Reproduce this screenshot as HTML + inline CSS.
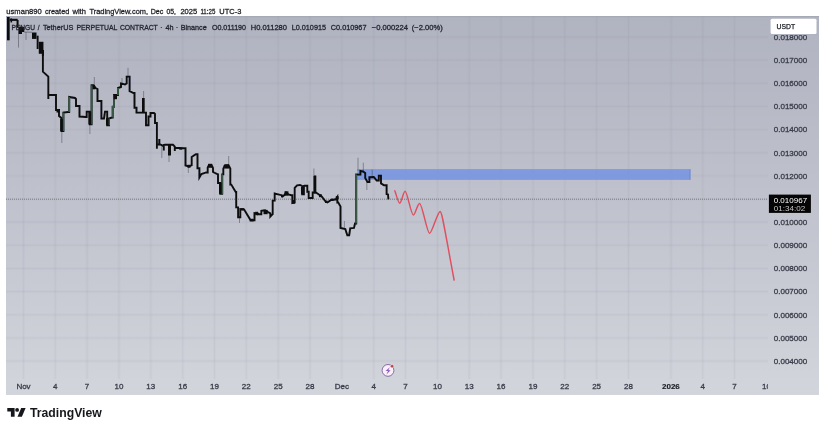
<!DOCTYPE html>
<html><head><meta charset="utf-8"><title>PENGU chart</title>
<style>
html,body{margin:0;padding:0;background:#fff;}
body{width:825px;height:431px;overflow:hidden;font-family:"Liberation Sans",sans-serif;}
svg{display:block;will-change:transform;}
text{font-family:"Liberation Sans",sans-serif;}
.b text{stroke:#3a3d49;stroke-width:0.3;}
.h text{stroke:#23262f;stroke-width:0.3;}
.b text.k{stroke:#1b1d24;stroke-width:0.15;}
</style></head><body>
<svg width="825" height="431" viewBox="0 0 825 431">
<defs>
<linearGradient id="bg" x1="0" y1="0" x2="0" y2="1">
<stop offset="0" stop-color="#b0b3c0"/>
<stop offset="0.5" stop-color="#c0c3cd"/>
<stop offset="1" stop-color="#d3d5dc"/>
</linearGradient>
<filter id="soft" x="-2%" y="-2%" width="104%" height="104%"><feGaussianBlur stdDeviation="0.35"/></filter>
<clipPath id="plot"><rect x="6" y="16" width="762" height="379"/></clipPath>
<clipPath id="chart"><rect x="6" y="16" width="813" height="379"/></clipPath>
</defs>
<rect x="0" y="0" width="825" height="431" fill="#ffffff"/>
<rect x="6" y="16" width="813" height="379" fill="url(#bg)"/>
<g stroke="#7f8392" stroke-opacity="0.03" stroke-width="3" clip-path="url(#chart)"><line x1="23.5" y1="16" x2="23.5" y2="379"/><line x1="55.3" y1="16" x2="55.3" y2="379"/><line x1="87.1" y1="16" x2="87.1" y2="379"/><line x1="119.0" y1="16" x2="119.0" y2="379"/><line x1="150.8" y1="16" x2="150.8" y2="379"/><line x1="182.7" y1="16" x2="182.7" y2="379"/><line x1="214.5" y1="16" x2="214.5" y2="379"/><line x1="246.3" y1="16" x2="246.3" y2="379"/><line x1="278.2" y1="16" x2="278.2" y2="379"/><line x1="310.0" y1="16" x2="310.0" y2="379"/><line x1="341.8" y1="16" x2="341.8" y2="379"/><line x1="373.7" y1="16" x2="373.7" y2="379"/><line x1="405.5" y1="16" x2="405.5" y2="379"/><line x1="437.4" y1="16" x2="437.4" y2="379"/><line x1="469.2" y1="16" x2="469.2" y2="379"/><line x1="501.0" y1="16" x2="501.0" y2="379"/><line x1="532.9" y1="16" x2="532.9" y2="379"/><line x1="564.7" y1="16" x2="564.7" y2="379"/><line x1="596.6" y1="16" x2="596.6" y2="379"/><line x1="628.4" y1="16" x2="628.4" y2="379"/><line x1="670.9" y1="16" x2="670.9" y2="379"/><line x1="702.7" y1="16" x2="702.7" y2="379"/><line x1="734.5" y1="16" x2="734.5" y2="379"/><line x1="6" y1="36.9" x2="768" y2="36.9"/><line x1="6" y1="60.1" x2="768" y2="60.1"/><line x1="6" y1="83.2" x2="768" y2="83.2"/><line x1="6" y1="106.4" x2="768" y2="106.4"/><line x1="6" y1="129.5" x2="768" y2="129.5"/><line x1="6" y1="152.7" x2="768" y2="152.7"/><line x1="6" y1="175.8" x2="768" y2="175.8"/><line x1="6" y1="199.0" x2="768" y2="199.0"/><line x1="6" y1="222.1" x2="768" y2="222.1"/><line x1="6" y1="245.3" x2="768" y2="245.3"/><line x1="6" y1="268.4" x2="768" y2="268.4"/><line x1="6" y1="291.6" x2="768" y2="291.6"/><line x1="6" y1="314.8" x2="768" y2="314.8"/><line x1="6" y1="337.9" x2="768" y2="337.9"/><line x1="6" y1="361.0" x2="768" y2="361.0"/></g>
<g stroke="#8c90a0" stroke-opacity="0.07" stroke-width="1" clip-path="url(#chart)"><line x1="23.5" y1="16" x2="23.5" y2="379"/><line x1="55.3" y1="16" x2="55.3" y2="379"/><line x1="87.1" y1="16" x2="87.1" y2="379"/><line x1="119.0" y1="16" x2="119.0" y2="379"/><line x1="150.8" y1="16" x2="150.8" y2="379"/><line x1="182.7" y1="16" x2="182.7" y2="379"/><line x1="214.5" y1="16" x2="214.5" y2="379"/><line x1="246.3" y1="16" x2="246.3" y2="379"/><line x1="278.2" y1="16" x2="278.2" y2="379"/><line x1="310.0" y1="16" x2="310.0" y2="379"/><line x1="341.8" y1="16" x2="341.8" y2="379"/><line x1="373.7" y1="16" x2="373.7" y2="379"/><line x1="405.5" y1="16" x2="405.5" y2="379"/><line x1="437.4" y1="16" x2="437.4" y2="379"/><line x1="469.2" y1="16" x2="469.2" y2="379"/><line x1="501.0" y1="16" x2="501.0" y2="379"/><line x1="532.9" y1="16" x2="532.9" y2="379"/><line x1="564.7" y1="16" x2="564.7" y2="379"/><line x1="596.6" y1="16" x2="596.6" y2="379"/><line x1="628.4" y1="16" x2="628.4" y2="379"/><line x1="670.9" y1="16" x2="670.9" y2="379"/><line x1="702.7" y1="16" x2="702.7" y2="379"/><line x1="734.5" y1="16" x2="734.5" y2="379"/><line x1="6" y1="36.9" x2="768" y2="36.9"/><line x1="6" y1="60.1" x2="768" y2="60.1"/><line x1="6" y1="83.2" x2="768" y2="83.2"/><line x1="6" y1="106.4" x2="768" y2="106.4"/><line x1="6" y1="129.5" x2="768" y2="129.5"/><line x1="6" y1="152.7" x2="768" y2="152.7"/><line x1="6" y1="175.8" x2="768" y2="175.8"/><line x1="6" y1="199.0" x2="768" y2="199.0"/><line x1="6" y1="222.1" x2="768" y2="222.1"/><line x1="6" y1="245.3" x2="768" y2="245.3"/><line x1="6" y1="268.4" x2="768" y2="268.4"/><line x1="6" y1="291.6" x2="768" y2="291.6"/><line x1="6" y1="314.8" x2="768" y2="314.8"/><line x1="6" y1="337.9" x2="768" y2="337.9"/><line x1="6" y1="361.0" x2="768" y2="361.0"/></g>
<rect x="6" y="16" width="813" height="1.2" fill="#9fa2ad" fill-opacity="0.55"/>
<rect x="357.2" y="169.1" width="333.2" height="10.8" fill="#7b97df" fill-opacity="0.94"/><rect x="689.6" y="169.1" width="0.9" height="10.8" fill="#5f78c4" fill-opacity="0.6"/>
<line x1="6" y1="199.2" x2="768" y2="199.2" stroke="#2b2e38" stroke-width="0.8" stroke-dasharray="1.0 1.0" stroke-opacity="0.6"/>
<g clip-path="url(#plot)"><g filter="url(#soft)"><g stroke="#3a3d48" stroke-width="0.85" stroke-opacity="0.55"><line x1="18.5" y1="27" x2="18.5" y2="47.6"/><line x1="26" y1="32" x2="26" y2="40"/><line x1="61.8" y1="131" x2="61.8" y2="143"/><line x1="89.9" y1="124" x2="89.9" y2="134"/><line x1="94.3" y1="77" x2="94.3" y2="86"/><line x1="122" y1="78" x2="122" y2="84"/><line x1="128" y1="67.8" x2="128" y2="76.6"/><line x1="143.6" y1="91" x2="143.6" y2="98"/><line x1="161.8" y1="146.5" x2="161.8" y2="158"/><line x1="169" y1="155" x2="169" y2="162"/><line x1="188.3" y1="166" x2="188.3" y2="173"/><line x1="228.7" y1="156" x2="228.7" y2="165"/><line x1="239.5" y1="217" x2="239.5" y2="223"/><line x1="313.9" y1="168.5" x2="313.9" y2="175"/><line x1="344.4" y1="221" x2="344.4" y2="229"/><line x1="358" y1="157.8" x2="358" y2="171"/><line x1="363.3" y1="162.7" x2="363.3" y2="171"/><line x1="366.8" y1="182" x2="366.8" y2="190"/><line x1="372.2" y1="169.5" x2="372.2" y2="177"/><line x1="24" y1="32" x2="32" y2="32.3" stroke-width="1.1"/></g><polyline fill="none" stroke="#0b0c0f" stroke-width="1.9" stroke-linejoin="miter" points="42.9,50 42.9,71.7 48.3,76.6 48.3,99 48.3,95 56,95 56,110 59,110 59,116 61.4,118 61.4,131 63.4,131 63.4,112.6 68,112 69.2,112 69.2,97 75,98 76,99 76,106 79.5,106 79.5,116.5 86,117 86.7,117 86.7,111.6 89.7,111.6 89.7,124.3 91.6,124.3 91.6,85.3 93.5,85.3 95.5,88 97.5,89 97.5,101 101.4,101 101.4,118.5 104,118.5 105,111.6 107.2,111.6 107.2,125.3 109,125.3 109,118.5 112,117.5 112.7,117.5 112.7,106.8 114,106.8 114,95 118,95 118,88 121,87 121,83.4 125,84.5 126.7,83.4 126.7,76.6 129.6,76.6 129.6,91.2 133.5,93 134.5,93 134.5,107.8 136.5,107.8 136.5,112.6 143.3,112.6 143.3,98 143.3,112.6 146,112.6 146,125.3 148.5,125.3 148.5,116.5 150.5,116.5 150.5,113 154,113 155,114 155,123 156.9,123 156.9,148.7 156.9,144.5 160.2,144.5 162.7,145.7 163.8,145.7 163.8,150.4 163.8,145 165,144.8 173,144.8 174.8,146.7 174.8,151 174.8,147.7 184,148.2 185.5,148.2 185.5,165.5 189,166.5 191.7,165.2 191.7,157 195.8,154.3 197.5,154.3 197.5,168.2 199.4,168.2 199.4,177.5 201.4,174 206.3,172.4 207.7,172.5 207.7,167.5 209,165 211.5,165 213,168 213,172 217.7,174.4 218,174.4 218,183 220.3,183 220.3,193.9 222.2,193.9 222.2,174.4 223.3,174.4 223.3,169 224.5,166 228.7,165.5 230.3,168.5 230.3,184.6 231.3,184.6 235.7,192 236.2,192 236.2,207.4 238.1,207.4 238.1,217.2 240.3,217.2 240.3,209 244,209.3 249.9,219.1 251,220.2 254.5,220.2 254.5,213 258,213.5 258,214.2 261.3,214.2 261.3,210.8 265,210.3 268,212 270.3,213.3 270.3,216.7 272.7,214.2 272.7,200.6 274.7,200.6 274.7,193.5 278.1,194.3 281.5,195.2 282.3,196.5 284.5,195 286,192.5 288.4,194.3 291.3,195.2 292.3,195.2 292.3,203 294.7,202.5 294.7,187.9 297.1,185.3 300,185 302.2,186 302.2,194.3 303.9,194.3 303.9,186 304.6,185.7 307.3,185.7 307.3,191.8 308.7,191.8 308.7,198 312.7,198 312.7,192.5 314.9,192.5 314.9,175.8 314.9,192.8 316.3,192.8 319.2,194.7 321.7,196.5 325.6,201.5 327.5,202.5 331,200 333.4,199.8 335.8,199.3 337.3,197 337.3,202.5 338.2,202.5 340.5,206.4 340.5,228 345.3,229 347.3,235.2 349.2,235.2 350.2,228.4 354,228 355,223.5 356.2,223.5 356.2,174.4 360.4,174.6 360.4,171 363,171.5 365.2,173 365.2,178 367.5,182 369.4,182 369.4,177.2 373.8,177 376.7,180.5 378.8,180.5 378.8,175.6 381,175.6 381,183.4 384,185.3 386.6,185.3 386.6,194.1 388,194.5 388.4,199.3"/><polyline fill="none" stroke="#3b5946" stroke-width="1.8" points="222.2,193.9 222.2,174.4"/><polyline fill="none" stroke="#3b5946" stroke-width="1.8" points="118,95 118,88"/><polyline fill="none" stroke="#3b5946" stroke-width="1.8" points="63.4,131 63.4,112.6"/><polyline fill="none" stroke="#3b5946" stroke-width="1.8" points="69.2,112 69.2,97"/><polyline fill="none" stroke="#3b5946" stroke-width="1.8" points="91.6,124.3 91.6,85.3"/><polyline fill="none" stroke="#3b5946" stroke-width="1.8" points="109,125.3 109,118.5"/><polyline fill="none" stroke="#3b5946" stroke-width="1.8" points="112.7,117.5 112.7,106.8 114,106.8 114,95"/><polyline fill="none" stroke="#3b5946" stroke-width="1.8" points="356.2,223.5 356.2,174.4"/><rect x="7" y="17" width="2.7" height="23.3" fill="#0d0e11"/><rect x="9.7" y="18.8" width="8" height="2.1" fill="#0d0e11"/><rect x="10.5" y="18.4" width="1.6" height="4" fill="#0d0e11"/><rect x="16.6" y="20" width="2" height="7.5" fill="#0d0e11"/><rect x="18.6" y="26.7" width="3.4" height="7.3" fill="#0d0e11"/><rect x="22" y="27" width="2.2" height="5" fill="#0d0e11"/><rect x="32" y="32.5" width="4.5" height="6.4" fill="#0d0e11"/><rect x="36.7" y="35.7" width="1.9" height="13.3" fill="#0d0e11"/><rect x="38.8" y="41.8" width="4.6" height="12" fill="#0d0e11"/><rect x="41.9" y="50" width="2" height="6" fill="#0d0e11"/><rect x="219" y="182.6" width="2.6" height="11.3" fill="#0d0e11"/><rect x="224.3" y="164.2" width="4.8" height="4.4" fill="#0d0e11"/><rect x="313.4" y="175.6" width="2.9" height="17.2" fill="#0d0e11"/><rect x="309" y="197" width="4" height="2" fill="#0d0e11"/><rect x="319" y="194.2" width="2.8" height="3" fill="#0d0e11"/><rect x="325" y="200.6" width="2.5" height="2.4" fill="#0d0e11"/><rect x="331" y="198.6" width="2.4" height="2.4" fill="#0d0e11"/><rect x="335.8" y="196.2" width="2.9" height="2.8" fill="#0d0e11"/><rect x="292" y="200" width="3" height="3.5" fill="#0d0e11"/><rect x="56.5" y="109" width="3.5" height="3.5" fill="#0d0e11"/><rect x="60.2" y="119" width="2.6" height="12" fill="#0d0e11"/><rect x="88.4" y="111.6" width="2.8" height="12.7" fill="#0d0e11"/><rect x="92.6" y="85.5" width="2.6" height="3.8" fill="#0d0e11"/><rect x="106" y="118" width="2.6" height="7.3" fill="#0d0e11"/><rect x="113.6" y="94.9" width="3.4" height="4.3" fill="#0d0e11"/><rect x="142" y="98" width="2.6" height="14.6" fill="#0d0e11"/><rect x="158.3" y="139" width="2" height="5.5" fill="#0d0e11"/><rect x="168" y="144.8" width="3" height="10.7" fill="#0d0e11"/><rect x="187.5" y="164.8" width="3" height="2.9" fill="#0d0e11"/><rect x="208.3" y="163.8" width="3.8" height="4" fill="#0d0e11"/><rect x="179.2" y="147.5" width="3" height="2.2" fill="#0d0e11"/><rect x="284.5" y="191.3" width="3.9" height="4.4" fill="#0d0e11"/><rect x="249.6" y="218.8" width="4" height="2.6" fill="#0d0e11"/><rect x="255.2" y="211.8" width="2.8" height="3.4" fill="#0d0e11"/><rect x="241" y="208.2" width="3" height="2.2" fill="#0d0e11"/><rect x="281" y="194.7" width="2.5" height="2.5" fill="#0d0e11"/><rect x="292.3" y="201" width="2.4" height="2.5" fill="#0d0e11"/><rect x="301" y="187" width="2.5" height="7.3" fill="#0d0e11"/><rect x="263.5" y="209.9" width="4.2" height="4.3" fill="#0d0e11"/></g></g>
<path d="M394.8,190.8 C396.3,194.5 398.2,203.2 399.7,203.2 C401.4,203.2 403.4,191.2 405.1,191.2 C407.2,191.2 411,215 413.3,215 C415.4,215 417.4,203.4 419.6,203.4 C422.2,203.4 427,233.3 429.6,233.3 C432,233.3 437.6,211.4 440.1,211.4 C442,211.4 444,226 454.1,280" fill="none" stroke="#e24858" stroke-width="1.45" stroke-opacity="0.95" stroke-linecap="round" stroke-linejoin="round"/>
<g>
<circle cx="388" cy="370.4" r="5.9" fill="#f8eff9" stroke="#6d5290" stroke-width="0.8"/>
<path d="M389.8,367.2 L385.6,371 L388,371 L386.4,374.4 L390.6,370.2 L388.3,370.2 Z" fill="#8d55bd"/>
<circle cx="392.1" cy="366.2" r="1.75" fill="#b8464f" stroke="#f6e6ea" stroke-width="0.6"/>
</g>
<g class="b"><text x="773.7" y="39.8" font-size="8" fill="#3a3d49" textLength="33.6" lengthAdjust="spacingAndGlyphs">0.018000</text><text x="773.7" y="62.9" font-size="8" fill="#3a3d49" textLength="33.6" lengthAdjust="spacingAndGlyphs">0.017000</text><text x="773.7" y="86.1" font-size="8" fill="#3a3d49" textLength="33.6" lengthAdjust="spacingAndGlyphs">0.016000</text><text x="773.7" y="109.2" font-size="8" fill="#3a3d49" textLength="33.6" lengthAdjust="spacingAndGlyphs">0.015000</text><text x="773.7" y="132.4" font-size="8" fill="#3a3d49" textLength="33.6" lengthAdjust="spacingAndGlyphs">0.014000</text><text x="773.7" y="155.5" font-size="8" fill="#3a3d49" textLength="33.6" lengthAdjust="spacingAndGlyphs">0.013000</text><text x="773.7" y="178.7" font-size="8" fill="#3a3d49" textLength="33.6" lengthAdjust="spacingAndGlyphs">0.012000</text><text x="773.7" y="225.0" font-size="8" fill="#3a3d49" textLength="33.6" lengthAdjust="spacingAndGlyphs">0.010000</text><text x="773.7" y="248.1" font-size="8" fill="#3a3d49" textLength="33.6" lengthAdjust="spacingAndGlyphs">0.009000</text><text x="773.7" y="271.3" font-size="8" fill="#3a3d49" textLength="33.6" lengthAdjust="spacingAndGlyphs">0.008000</text><text x="773.7" y="294.4" font-size="8" fill="#3a3d49" textLength="33.6" lengthAdjust="spacingAndGlyphs">0.007000</text><text x="773.7" y="317.6" font-size="8" fill="#3a3d49" textLength="33.6" lengthAdjust="spacingAndGlyphs">0.006000</text><text x="773.7" y="340.8" font-size="8" fill="#3a3d49" textLength="33.6" lengthAdjust="spacingAndGlyphs">0.005000</text><text x="773.7" y="363.9" font-size="8" fill="#3a3d49" textLength="33.6" lengthAdjust="spacingAndGlyphs">0.004000</text></g>
<rect x="769.5" y="17.5" width="48.5" height="17.6" fill="#b1b4c1"/>
<rect x="770.6" y="18.7" width="45.9" height="15.3" rx="1.5" fill="#ffffff"/>
<text x="776.5" y="28.95" font-size="6.9" fill="#1b1d24" textLength="18.6" lengthAdjust="spacingAndGlyphs" stroke="#1b1d24" stroke-width="0.25">USDT</text><rect x="768.9" y="194.6" width="42" height="18.3" fill="#050505"/>
<text x="773.7" y="202.8" font-size="8" fill="#ffffff" textLength="33.4" lengthAdjust="spacingAndGlyphs">0.010967</text><text x="773.7" y="211.2" font-size="8" fill="#c4c4c8" textLength="31.5" lengthAdjust="spacingAndGlyphs">01:34:02</text><g class="b"><text x="23.5" y="389.3" font-size="8" fill="#3a3d49" text-anchor="middle">Nov</text><text x="55.3" y="389.3" font-size="8" fill="#3a3d49" text-anchor="middle">4</text><text x="87.1" y="389.3" font-size="8" fill="#3a3d49" text-anchor="middle">7</text><text x="119.0" y="389.3" font-size="8" fill="#3a3d49" text-anchor="middle">10</text><text x="150.8" y="389.3" font-size="8" fill="#3a3d49" text-anchor="middle">13</text><text x="182.7" y="389.3" font-size="8" fill="#3a3d49" text-anchor="middle">16</text><text x="214.5" y="389.3" font-size="8" fill="#3a3d49" text-anchor="middle">19</text><text x="246.3" y="389.3" font-size="8" fill="#3a3d49" text-anchor="middle">22</text><text x="278.2" y="389.3" font-size="8" fill="#3a3d49" text-anchor="middle">25</text><text x="310.0" y="389.3" font-size="8" fill="#3a3d49" text-anchor="middle">28</text><text x="341.8" y="389.3" font-size="8" fill="#3a3d49" text-anchor="middle">Dec</text><text x="373.7" y="389.3" font-size="8" fill="#3a3d49" text-anchor="middle">4</text><text x="405.5" y="389.3" font-size="8" fill="#3a3d49" text-anchor="middle">7</text><text x="437.4" y="389.3" font-size="8" fill="#3a3d49" text-anchor="middle">10</text><text x="469.2" y="389.3" font-size="8" fill="#3a3d49" text-anchor="middle">13</text><text x="501.0" y="389.3" font-size="8" fill="#3a3d49" text-anchor="middle">16</text><text x="532.9" y="389.3" font-size="8" fill="#3a3d49" text-anchor="middle">19</text><text x="564.7" y="389.3" font-size="8" fill="#3a3d49" text-anchor="middle">22</text><text x="596.6" y="389.3" font-size="8" fill="#3a3d49" text-anchor="middle">25</text><text x="628.4" y="389.3" font-size="8" fill="#3a3d49" text-anchor="middle">28</text><text x="670.9" y="389.3" font-size="8" fill="#1b1d24" font-weight="bold" text-anchor="middle" class="k">2026</text><text x="702.7" y="389.3" font-size="8" fill="#3a3d49" text-anchor="middle">4</text><text x="734.5" y="389.3" font-size="8" fill="#3a3d49" text-anchor="middle">7</text><text x="762.0" y="389.3" font-size="8" fill="#3a3d49" clip-path="url(#plot)">10</text></g>
<g stroke="#1d1f26" stroke-width="0.28"><text x="6.3" y="13.5" font-size="7.7" fill="#1d1f26" textLength="35.5" lengthAdjust="spacingAndGlyphs">usman890</text><text x="44.9" y="13.5" font-size="7.7" fill="#1d1f26" textLength="24.4" lengthAdjust="spacingAndGlyphs">created</text><text x="72.5" y="13.5" font-size="7.7" fill="#1d1f26" textLength="13.4" lengthAdjust="spacingAndGlyphs">with</text><text x="89.5" y="13.5" font-size="7.7" fill="#1d1f26" textLength="58.5" lengthAdjust="spacingAndGlyphs">TradingView.com,</text><text x="150.7" y="13.5" font-size="7.7" fill="#1d1f26" textLength="12.6" lengthAdjust="spacingAndGlyphs">Dec</text><text x="166.5" y="13.5" font-size="7.7" fill="#1d1f26" textLength="9.5" lengthAdjust="spacingAndGlyphs">05,</text><text x="180.4" y="13.5" font-size="7.7" fill="#1d1f26" textLength="16.8" lengthAdjust="spacingAndGlyphs">2025</text><text x="200.4" y="13.5" font-size="7.7" fill="#1d1f26" textLength="14.9" lengthAdjust="spacingAndGlyphs">11:25</text><text x="219.3" y="13.5" font-size="7.7" fill="#1d1f26" textLength="22.0" lengthAdjust="spacingAndGlyphs">UTC-3</text></g><g class="h"><text x="11.4" y="29.6" font-size="8" fill="#23262f" textLength="23.6" lengthAdjust="spacingAndGlyphs">PENGU</text><text x="37.7" y="29.6" font-size="8" fill="#23262f" textLength="1.8" lengthAdjust="spacingAndGlyphs">/</text><text x="42.9" y="29.6" font-size="8" fill="#23262f" textLength="30.4" lengthAdjust="spacingAndGlyphs">TetherUS</text><text x="76.4" y="29.6" font-size="8" fill="#23262f" textLength="41.0" lengthAdjust="spacingAndGlyphs">PERPETUAL</text><text x="119.9" y="29.6" font-size="8" fill="#23262f" textLength="37.9" lengthAdjust="spacingAndGlyphs">CONTRACT</text><text x="160.3" y="29.6" font-size="8" fill="#23262f" textLength="2.0" lengthAdjust="spacingAndGlyphs">·</text><text x="165.4" y="29.6" font-size="8" fill="#23262f" textLength="8.1" lengthAdjust="spacingAndGlyphs">4h</text><text x="176" y="29.6" font-size="8" fill="#23262f" textLength="2" lengthAdjust="spacingAndGlyphs">·</text><text x="180.7" y="29.6" font-size="8" fill="#23262f" textLength="26.0" lengthAdjust="spacingAndGlyphs">Binance</text><text x="211.9" y="29.6" font-size="8" fill="#23262f" textLength="34.1" lengthAdjust="spacingAndGlyphs">O0.011190</text><text x="250.7" y="29.6" font-size="8" fill="#23262f" textLength="36.3" lengthAdjust="spacingAndGlyphs">H0.011280</text><text x="291.7" y="29.6" font-size="8" fill="#23262f" textLength="34.3" lengthAdjust="spacingAndGlyphs">L0.010915</text><text x="330.8" y="29.6" font-size="8" fill="#23262f" textLength="35.7" lengthAdjust="spacingAndGlyphs">C0.010967</text><text x="371.8" y="29.6" font-size="8" fill="#23262f" textLength="36.2" lengthAdjust="spacingAndGlyphs">−0.000224</text><text x="411.8" y="29.6" font-size="8" fill="#23262f" textLength="31.0" lengthAdjust="spacingAndGlyphs">(−2.00%)</text></g><g fill="#15171c">
<path d="M7.3,408 H14.6 V416.8 H10.9 V411.6 H7.3 Z"/>
<circle cx="17.1" cy="409.9" r="1.9"/>
<path d="M21.2,408 H25.6 L21.9,416.8 H17.5 Z"/>
</g>
<text x="30" y="416.9" font-size="12.6" fill="#15171c" textLength="71.8" lengthAdjust="spacingAndGlyphs" font-weight="bold">TradingView</text></svg>
</body></html>
